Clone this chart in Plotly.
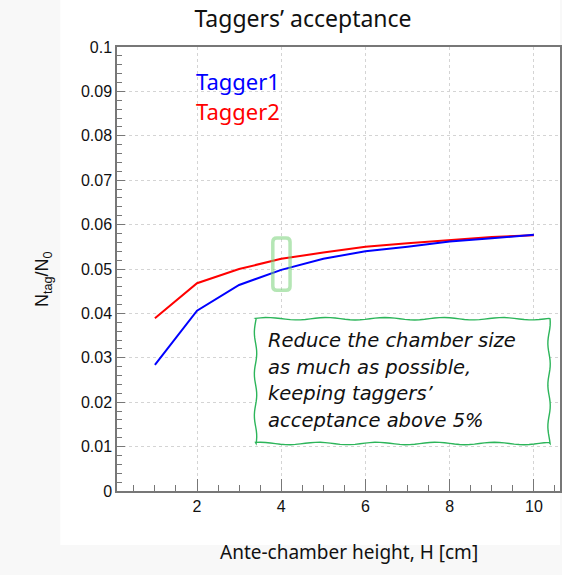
import numpy as np
import plotly.graph_objects as go

# ---- data ----
height_cm = [1, 2, 3, 4, 5, 6, 7, 8, 9, 10]
tagger1 = [0.0284, 0.0406, 0.0464, 0.0498, 0.0523, 0.0540, 0.0550, 0.0562, 0.0569, 0.0577]
tagger2 = [0.0389, 0.0468, 0.0500, 0.0523, 0.0537, 0.0550, 0.0558, 0.0565, 0.0572, 0.0576]
series_names = ["Tagger1", "Tagger2"]
y_ticks = [0, 0.01, 0.02, 0.03, 0.04, 0.05, 0.06, 0.07, 0.08, 0.09, 0.1]
y_tick_labels = ["0", "0.01", "0.02", "0.03", "0.04", "0.05", "0.06", "0.07", "0.08", "0.09", "0.1"]
x_ticks = [2, 4, 6, 8, 10]
note_lines = ["Reduce the chamber size", "as much as possible,",
              "keeping taggers\u2019", "acceptance above 5%"]

W, H = 562, 575
ML, MR, MT, MB = 117, 0, 47, 84
XR = [0.1, 10.62]
YR = [0, 0.1]
pw = W - ML - MR
ph = H - MT - MB
px_x = (XR[1] - XR[0]) / pw   # data units per pixel
px_y = (YR[1] - YR[0]) / ph

fig = go.Figure()
fig.add_trace(go.Scatter(x=height_cm, y=tagger2, mode="lines", name=series_names[1],
                         line=dict(color="#ff0000", width=2)))
fig.add_trace(go.Scatter(x=height_cm, y=tagger1, mode="lines", name=series_names[0],
                         line=dict(color="#0000ff", width=2)))

# background blocks (faint grey page, white card)
fig.add_shape(type="rect", xref="paper", yref="paper",
              x0=(60 - ML) / pw, x1=1.0, y0=(H - MB - 545) / ph, y1=(H - MB) / ph,
              fillcolor="white", line=dict(width=0), layer="below")

# green highlight rounded rect around H=4
def rounded_rect(x0, x1, y0, y1, rpx):
    rx, ry = rpx * px_x, rpx * px_y
    return (f"M{x0+rx},{y0} L{x1-rx},{y0} Q{x1},{y0} {x1},{y0+ry} "
            f"L{x1},{y1-ry} Q{x1},{y1} {x1-rx},{y1} L{x0+rx},{y1} "
            f"Q{x0},{y1} {x0},{y1-ry} L{x0},{y0+ry} Q{x0},{y0} {x0+rx},{y0} Z")

fig.add_shape(type="path", xref="x", yref="y",
              path=rounded_rect(3.80, 4.21, 0.0452, 0.0570, 4),
              line=dict(color="rgba(120,210,120,0.55)", width=3.5))

# wavy note box
bx0, bx1, by0, by1 = 3.39, 10.36, 0.0107, 0.0388
def wavy(a0, a1, n, amp, waves, phase):
    t = np.linspace(0, 1, n)
    return a0 + (a1 - a0) * t, amp * np.sin(2 * np.pi * waves * t + phase)

pts = []
xs, off = wavy(bx0, bx1, 60, 1.2, 5, 0.3)
pts += [(x, by1 + o * px_y) for x, o in zip(xs, off)]
ys, off = wavy(by1, by0, 40, 1.2, 3, 1.0)
pts += [(bx1 + o * px_x, y) for y, o in zip(ys, off)]
xs, off = wavy(bx1, bx0, 60, 1.2, 5, 2.0)
pts += [(x, by0 + o * px_y) for x, o in zip(xs, off)]
ys, off = wavy(by0, by1, 40, 1.2, 3, 0.5)
pts += [(bx0 + o * px_x, y) for y, o in zip(ys, off)]
path = "M" + " L".join(f"{x:.4f},{y:.6f}" for x, y in pts) + " Z"
fig.add_shape(type="path", xref="x", yref="y", path=path,
              fillcolor="white", line=dict(color="#2cb55a", width=1.4))

for i, line in enumerate(note_lines):
    fig.add_annotation(x=bx0 + 10 * px_x, y=by1 - (22 + i * 26.5) * px_y, xref="x", yref="y",
                       text=line, showarrow=False, xanchor="left", yanchor="middle",
                       font=dict(family="DejaVu Sans", size=19.5, color="#111111", style="italic"))

# legend-like labels
fig.add_annotation(x=(194 - ML) / pw, y=(H - MB - 81) / ph, xref="paper", yref="paper",
                   text=series_names[0], showarrow=False, xanchor="left", yanchor="middle",
                   font=dict(family="Noto Sans", size=22, color="#0000ff"))
fig.add_annotation(x=(194 - ML) / pw, y=(H - MB - 111) / ph, xref="paper", yref="paper",
                   text=series_names[1], showarrow=False, xanchor="left", yanchor="middle",
                   font=dict(family="Noto Sans", size=22, color="#ff0000"))

# axis titles
fig.add_annotation(x=(29 - ML) / pw, y=(H - MB - 279) / ph, xref="paper", yref="paper",
                   text="N<sub>tag</sub>/N<sub>0</sub>", showarrow=False, textangle=-90,
                   font=dict(family="Liberation Sans", size=18, color="#111111"))
fig.add_annotation(x=(350 - ML) / pw, y=(H - MB - 567) / ph, xref="paper", yref="paper",
                   text="Ante-chamber height, H [cm]", showarrow=False,
                   font=dict(family="Noto Sans", size=19, color="#111111"))

fig.update_layout(
    width=W, height=H,
    margin=dict(l=ML, r=MR, t=MT, b=MB),
    paper_bgcolor="#f8f8f8", plot_bgcolor="white",
    showlegend=False,
    title=dict(text="Taggers\u2019 acceptance", x=303 / W, y=1 - 19 / H,
               xanchor="center", yanchor="middle", xref="container", yref="container",
               font=dict(family="Noto Sans", size=23, color="#111111")),
)
fig.update_xaxes(range=XR, tickvals=x_ticks, ticks="inside", ticklen=12, tickwidth=1,
                 tickcolor="#777777", showline=True, linecolor="#777777", linewidth=1.5,
                 mirror=True, showgrid=True, gridcolor="#d4d4d4", griddash="dot", gridwidth=1,
                 zeroline=False,
                 minor=dict(ticks="inside", dtick=0.5, tick0=0, ticklen=6, tickcolor="#777777",
                            showgrid=False),
                 tickfont=dict(family="Liberation Sans", size=16, color="#111111"))
fig.update_yaxes(range=YR, tickvals=y_ticks, ticktext=y_tick_labels, ticks="inside", ticklen=8,
                 tickwidth=1, tickcolor="#777777", showline=True, linecolor="#777777",
                 linewidth=1.5, mirror=True, showgrid=True, gridcolor="#d4d4d4", griddash="dot",
                 gridwidth=1, zeroline=False,
                 minor=dict(ticks="inside", dtick=0.002, tick0=0, ticklen=5, tickcolor="#777777",
                            showgrid=False),
                 tickfont=dict(family="Liberation Sans", size=16, color="#111111"))

fig.write_html("out.html", config={"displayModeBar": False},
               post_script="document.body.style.margin='0';")
